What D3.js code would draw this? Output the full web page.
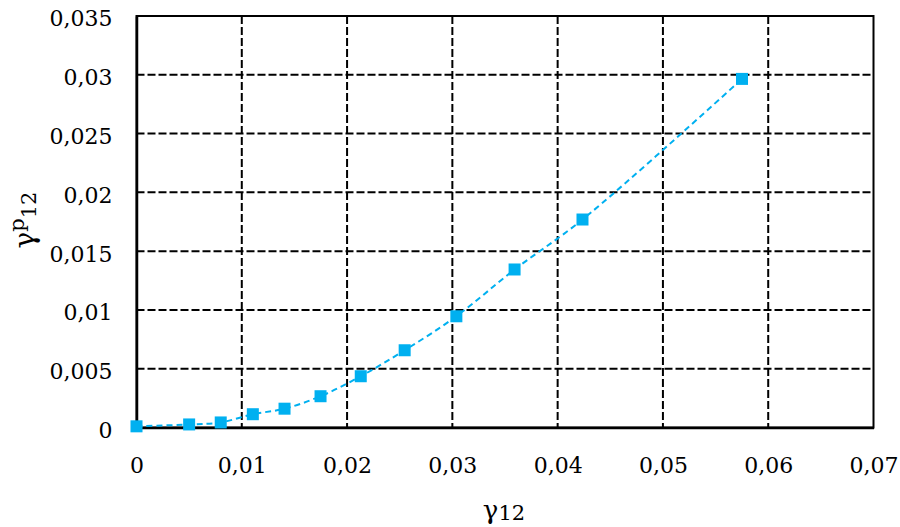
<!DOCTYPE html>
<html><head><meta charset="utf-8">
<script src="https://cdn.jsdelivr.net/npm/d3@7"></script>
<style>body{margin:0;background:#fff}svg{display:block}</style>
</head><body>
<svg id="c" width="900" height="527"></svg>
<script>
const xValues = [0, 0.005, 0.008, 0.01105, 0.01406, 0.01748, 0.0213, 0.02547, 0.03038, 0.03591, 0.04236, 0.05751];
const yValues = [0.0001, 0.00026, 0.00043, 0.00113, 0.0016, 0.00266, 0.00436, 0.00657, 0.00946, 0.01344, 0.01769, 0.02965];
const xTicks = [0, 0.01, 0.02, 0.03, 0.04, 0.05, 0.06, 0.07];
const yTicks = [0, 0.005, 0.01, 0.015, 0.02, 0.025, 0.03, 0.035];

const svg = d3.select("#c");
const L = 136.5, R = 873.5, T = 16, B = 427.5;
const x = d3.scaleLinear().domain([0, 0.07]).range([L, R]);
const y = d3.scaleLinear().domain([0, 0.035]).range([B, T]);
const lab = v => String(+v.toFixed(4)).replace(".", ",");
const FONT = "DejaVu Serif";

// grid
svg.append("g").selectAll("line").data(xTicks.slice(1, -1)).join("line")
  .attr("x1", d => x(d)).attr("x2", d => x(d)).attr("y1", T).attr("y2", B)
  .attr("stroke", "#000").attr("stroke-width", 2).attr("stroke-dasharray", "8,3");
svg.append("g").selectAll("line").data(yTicks.slice(1, -1)).join("line")
  .attr("y1", d => y(d)).attr("y2", d => y(d)).attr("x1", L).attr("x2", R)
  .attr("stroke", "#000").attr("stroke-width", 2).attr("stroke-dasharray", "8,3");

// frame
svg.append("rect").attr("x", L).attr("y", T).attr("width", R - L).attr("height", B - T)
  .attr("fill", "none").attr("stroke", "#000").attr("stroke-width", 2);

// axes with labels
const yAxis = d3.axisLeft(y).tickValues(yTicks).tickFormat(lab).tickSize(0).tickPadding(24);
const gy = svg.append("g").attr("transform", `translate(${L},0)`).call(yAxis);
gy.select(".domain").attr("stroke", "#000").attr("stroke-width", 2.5);
gy.selectAll("text").attr("font-family", FONT).attr("font-size", 22).attr("fill", "#000").attr("dy", "0.45em");

const xAxis = d3.axisBottom(x).tickValues(xTicks).tickFormat(lab).tickSize(0).tickPadding(30);
const gx = svg.append("g").attr("transform", `translate(0,${B})`).call(xAxis);
gx.select(".domain").attr("stroke", "#000").attr("stroke-width", 2.5);
gx.selectAll("text").attr("font-family", FONT).attr("font-size", 22).attr("fill", "#000");

// series
const pts = xValues.map((v, i) => [v, yValues[i]]);
const line = d3.line().x(d => x(d[0])).y(d => y(d[1])).curve(d3.curveCatmullRom.alpha(0.5));
svg.append("path").attr("d", line(pts)).attr("fill", "none")
  .attr("stroke", "#00B0F0").attr("stroke-width", 2).attr("stroke-dasharray", "6,4");
const S = 12;
svg.append("g").selectAll("rect").data(pts).join("rect")
  .attr("x", d => x(d[0]) - S / 2).attr("y", d => y(d[1]) - S / 2)
  .attr("width", S).attr("height", S).attr("fill", "#00B0F0");

// axis titles
const xt = svg.append("text").attr("x", 504).attr("y", 519).attr("text-anchor", "middle")
  .attr("font-family", FONT).attr("font-size", 26).attr("fill", "#000");
xt.append("tspan").text("γ");
xt.append("tspan").attr("font-size", 21).attr("dy", 1).text("12");

const yt = svg.append("text").attr("transform", "translate(34,220) rotate(-90)")
  .attr("text-anchor", "middle").attr("font-family", FONT).attr("font-size", 28).attr("fill", "#000");
yt.append("tspan").text("γ");
yt.append("tspan").attr("font-size", 21).attr("dy", -10).text("p");
yt.append("tspan").attr("font-size", 21).attr("dy", 12).text("12");
</script>
</body></html>
